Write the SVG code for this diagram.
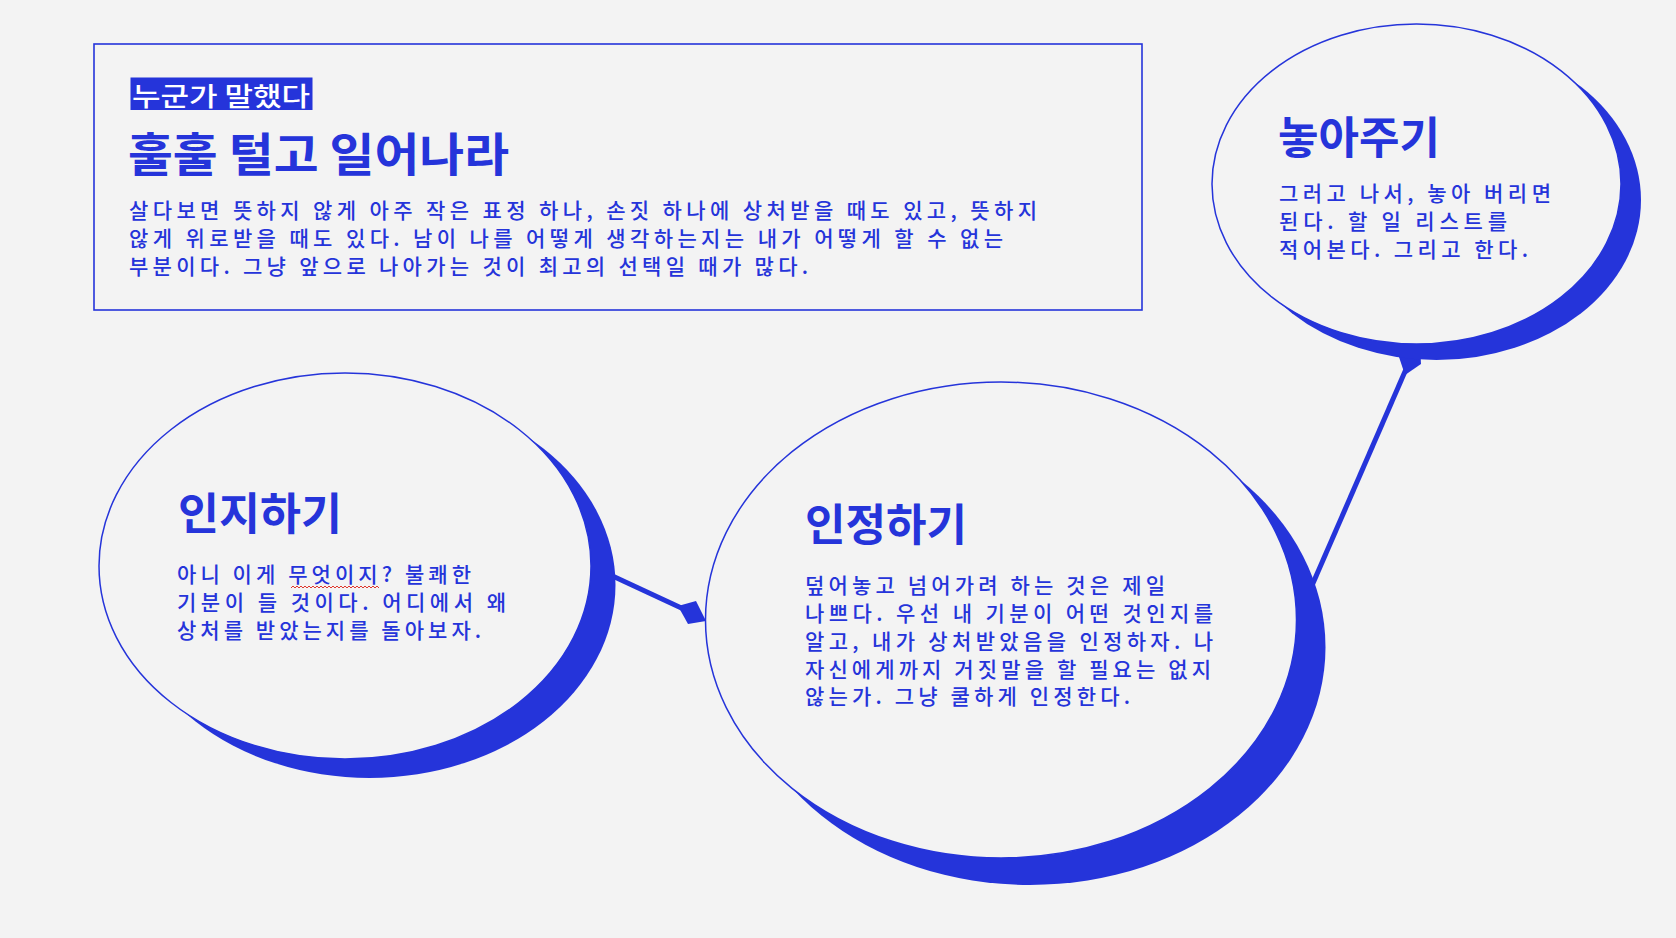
<svg xmlns="http://www.w3.org/2000/svg" width="1676" height="938" viewBox="0 0 1676 938">
<style>
.bg{fill:#F3F3F3}
.shadow{fill:#2534DA}
.bubble{fill:#F3F3F3;stroke:#2534DA;stroke-width:1.5}
.frame{fill:none;stroke:#2534DA;stroke-width:1.6}
.title{font-family:"Noto Sans CJK KR","Noto Sans",sans-serif;font-weight:700;fill:#2534DA}
.body{font-family:"Noto Sans CJK KR","Noto Sans",sans-serif;font-size:21px;font-weight:500;fill:#2534DA}
.tag{font-family:"Noto Sans CJK KR","Noto Sans",sans-serif;font-size:26px;font-weight:500;fill:#FFFFFF}
.conn{stroke:#2534DA;stroke-width:5;fill:none}
.tip{fill:#2534DA}
</style>
<rect class="bg" x="0" y="0" width="1676" height="938"/>

<g id="connectors">
  <line class="conn" x1="591" y1="566" x2="690" y2="612"/>
  <polygon class="tip" points="678,606 696,601 706,621 688,624"/>
  <line class="conn" x1="1297" y1="620" x2="1410" y2="360"/>
  <polygon class="tip" points="1400,345 1420,345 1421,364 1405,375 1399,357"/>
</g>

<g id="header">
  <rect class="frame" x="94" y="44" width="1048" height="266"/>
  <rect x="130.5" y="77.5" width="182" height="32.5" fill="#2534DA"/>
  <text class="tag" x="132" y="106" textLength="178" lengthAdjust="spacingAndGlyphs">누군가 말했다</text>
  <text class="title" x="128" y="171" font-size="46" textLength="381" lengthAdjust="spacingAndGlyphs">훌훌 털고 일어나라</text>
  <text class="body" x="129" y="218" textLength="908" lengthAdjust="spacing">살다보면 뜻하지 않게 아주 작은 표정 하나, 손짓 하나에 상처받을 때도 있고, 뜻하지</text>
  <text class="body" x="129" y="246" textLength="874" lengthAdjust="spacing">않게 위로받을 때도 있다. 남이 나를 어떻게 생각하는지는 내가 어떻게 할 수 없는</text>
  <text class="body" x="129" y="274" textLength="679" lengthAdjust="spacing">부분이다. 그냥 앞으로 나아가는 것이 최고의 선택일 때가 많다.</text>
</g>

<g id="node-letgo">
  <ellipse class="shadow" cx="1436.5" cy="200" rx="204.5" ry="160"/>
  <ellipse class="bubble" cx="1416.5" cy="184" rx="204.5" ry="160"/>
  <text class="title" x="1278" y="154" font-size="44" textLength="162" lengthAdjust="spacingAndGlyphs">놓아주기</text>
  <text class="body" x="1279" y="201" textLength="272" lengthAdjust="spacing">그러고 나서, 놓아 버리면</text>
  <text class="body" x="1279" y="229" textLength="228" lengthAdjust="spacing">된다. 할 일 리스트를</text>
  <text class="body" x="1279" y="257" textLength="249" lengthAdjust="spacing">적어본다. 그리고 한다.</text>
</g>

<g id="node-recognize">
  <ellipse class="shadow" cx="369.5" cy="585" rx="246" ry="193"/>
  <ellipse class="bubble" cx="345" cy="566" rx="246" ry="193"/>
  <text class="title" x="178" y="530" font-size="44" textLength="164" lengthAdjust="spacingAndGlyphs">인지하기</text>
  <text class="body" x="177" y="582" textLength="294" lengthAdjust="spacing">아니 이게 무엇이지? 불쾌한</text>
  <path d="M291 588 l2 -2 l2 2 l2 -2 l2 2 l2 -2 l2 2 l2 -2 l2 2 l2 -2 l2 2 l2 -2 l2 2 l2 -2 l2 2 l2 -2 l2 2 l2 -2 l2 2 l2 -2 l2 2 l2 -2 l2 2 l2 -2 l2 2 l2 -2 l2 2 l2 -2 l2 2 l2 -2 l2 2 l2 -2 l2 2 l2 -2 l2 2 l2 -2 l2 2 l2 -2 l2 2 l2 -2 l2 2 l2 -2 l2 2 l2 -2 l2 2" fill="none" stroke="#E0362C" stroke-width="1"/>
  <text class="body" x="177" y="610" textLength="329" lengthAdjust="spacing">기분이 들 것이다. 어디에서 왜</text>
  <text class="body" x="177" y="638" textLength="304" lengthAdjust="spacing">상처를 받았는지를 돌아보자.</text>
</g>

<g id="node-accept">
  <ellipse class="shadow" cx="1030" cy="647" rx="295.5" ry="238"/>
  <ellipse class="bubble" cx="1001" cy="620" rx="295.5" ry="238"/>
  <text class="title" x="805" y="541" font-size="44" textLength="162" lengthAdjust="spacingAndGlyphs">인정하기</text>
  <text class="body" x="805" y="593" textLength="360" lengthAdjust="spacing">덮어놓고 넘어가려 하는 것은 제일</text>
  <text class="body" x="805" y="621" textLength="408" lengthAdjust="spacing">나쁘다. 우선 내 기분이 어떤 것인지를</text>
  <text class="body" x="805" y="649" textLength="408" lengthAdjust="spacing">알고, 내가 상처받았음을 인정하자. 나</text>
  <text class="body" x="805" y="677" textLength="406" lengthAdjust="spacing">자신에게까지 거짓말을 할 필요는 없지</text>
  <text class="body" x="805" y="704" textLength="325" lengthAdjust="spacing">않는가. 그냥 쿨하게 인정한다.</text>
</g>
</svg>
